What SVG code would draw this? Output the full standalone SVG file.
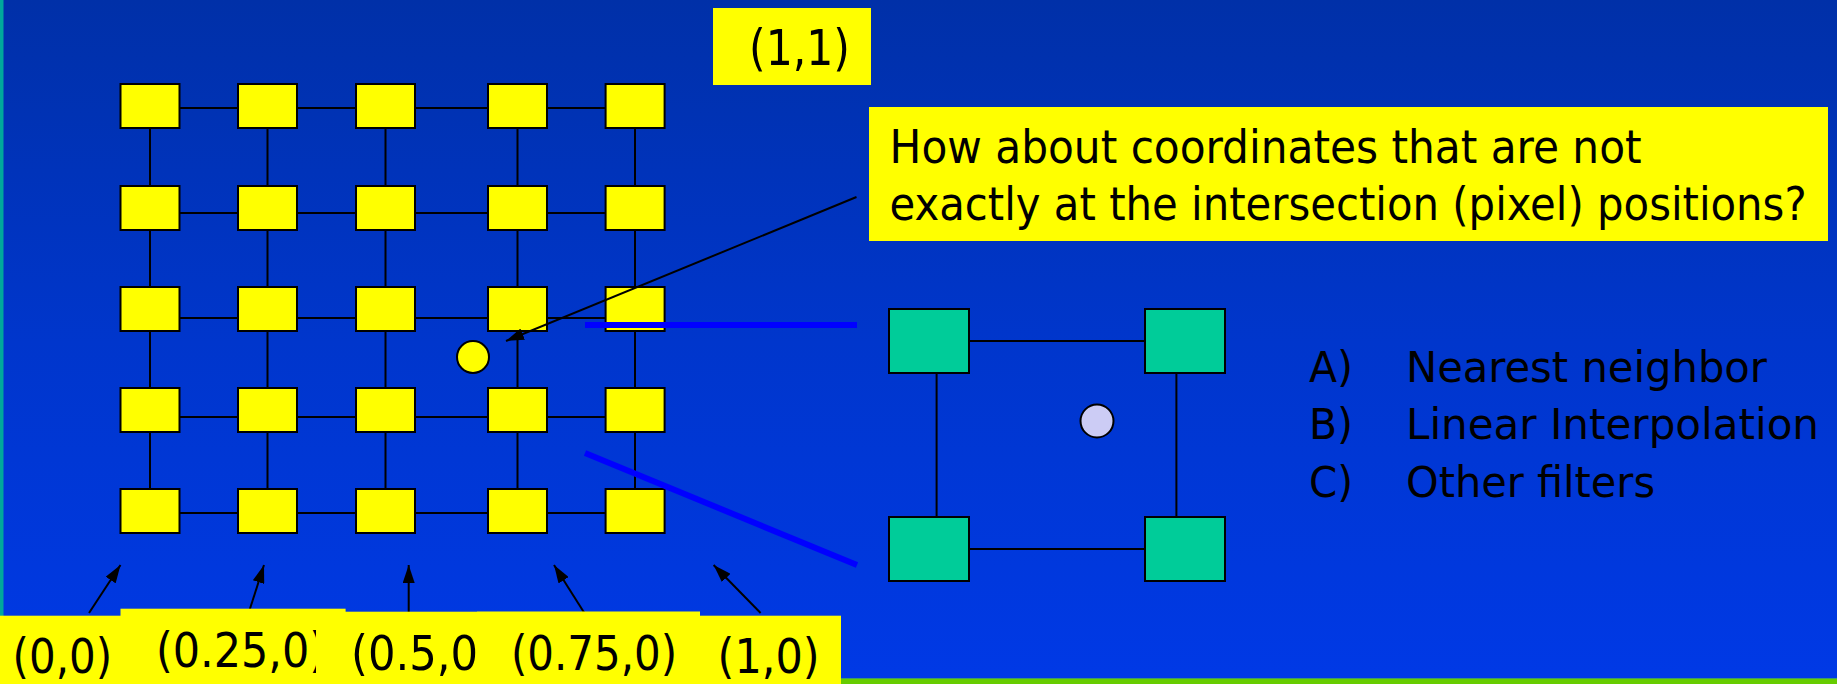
<svg xmlns="http://www.w3.org/2000/svg" width="1837" height="684" viewBox="0 0 1837 684">
<defs>
<linearGradient id="bg" x1="0" y1="0" x2="0" y2="1">
<stop offset="0" stop-color="#0030A8"/>
<stop offset="0.5" stop-color="#0036CC"/>
<stop offset="1" stop-color="#0039E6"/>
</linearGradient>
<marker id="ah" viewBox="0 0 18 12" refX="18" refY="6" markerWidth="18" markerHeight="12" markerUnits="userSpaceOnUse" orient="auto">
<path d="M0,0 L18,6 L0,12 z" fill="#000"/>
</marker>
<style>
.ys{fill:#FFFF00;stroke:#000;stroke-width:2}
.ts{fill:#00CC99;stroke:#000;stroke-width:2}
.ln{stroke:#000;stroke-width:2;fill:none}
.ar{stroke:#000;stroke-width:2;fill:none;marker-end:url(#ah)}
.bl{stroke:#0000FF;stroke-width:6;fill:none}
.lb{fill:#FFFF00}
.tx{font-family:"DejaVu Sans Condensed","DejaVu Sans",sans-serif;fill:#000}
</style>
</defs>
<rect x="0" y="0" width="1837" height="684" fill="url(#bg)"/>
<rect x="0" y="0" width="3.5" height="616" fill="#00A89C"/>
<rect x="841" y="678" width="996" height="6" fill="#66CC00"/>
<rect x="841" y="678" width="996" height="1" fill="#3E9A6A"/>

<g id="connectors">
<line class="ln" x1="150" y1="108" x2="635" y2="108"/>
<line class="ln" x1="150" y1="213" x2="635" y2="213"/>
<line class="ln" x1="150" y1="318" x2="635" y2="318"/>
<line class="ln" x1="150" y1="417" x2="635" y2="417"/>
<line class="ln" x1="150" y1="513" x2="635" y2="513"/>
<line class="ln" x1="150" y1="106" x2="150" y2="511"/>
<line class="ln" x1="267.5" y1="106" x2="267.5" y2="511"/>
<line class="ln" x1="385.5" y1="106" x2="385.5" y2="511"/>
<line class="ln" x1="517.5" y1="106" x2="517.5" y2="511"/>
<line class="ln" x1="635" y1="106" x2="635" y2="511"/>
<line class="ln" x1="969" y1="341" x2="1145" y2="341"/>
<line class="ln" x1="969" y1="549" x2="1145" y2="549"/>
<line class="ln" x1="936.6" y1="373" x2="936.6" y2="517"/>
<line class="ln" x1="1176.4" y1="373" x2="1176.4" y2="517"/>
</g>

<g id="grid">
<rect class="ys" x="120.5" y="84" width="59" height="44"/><rect class="ys" x="238" y="84" width="59" height="44"/><rect class="ys" x="356" y="84" width="59" height="44"/><rect class="ys" x="488" y="84" width="59" height="44"/><rect class="ys" x="605.6" y="84" width="59" height="44"/>
<rect class="ys" x="120.5" y="186" width="59" height="44"/><rect class="ys" x="238" y="186" width="59" height="44"/><rect class="ys" x="356" y="186" width="59" height="44"/><rect class="ys" x="488" y="186" width="59" height="44"/><rect class="ys" x="605.6" y="186" width="59" height="44"/>
<rect class="ys" x="120.5" y="287" width="59" height="44"/><rect class="ys" x="238" y="287" width="59" height="44"/><rect class="ys" x="356" y="287" width="59" height="44"/><rect class="ys" x="488" y="287" width="59" height="44"/><rect class="ys" x="605.6" y="287" width="59" height="44"/>
<rect class="ys" x="120.5" y="388" width="59" height="44"/><rect class="ys" x="238" y="388" width="59" height="44"/><rect class="ys" x="356" y="388" width="59" height="44"/><rect class="ys" x="488" y="388" width="59" height="44"/><rect class="ys" x="605.6" y="388" width="59" height="44"/>
<rect class="ys" x="120.5" y="489" width="59" height="44"/><rect class="ys" x="238" y="489" width="59" height="44"/><rect class="ys" x="356" y="489" width="59" height="44"/><rect class="ys" x="488" y="489" width="59" height="44"/><rect class="ys" x="605.6" y="489" width="59" height="44"/>
</g>

<g id="sample-point">
<circle cx="473" cy="357" r="16" fill="#FFFF00" stroke="#000" stroke-width="2"/>
</g>

<g id="zoom-lines">
<line class="bl" x1="585" y1="325" x2="857" y2="325"/>
<line class="bl" x1="585" y1="453" x2="857" y2="565"/>
</g>

<g id="cell">
<rect class="ts" x="889" y="309" width="80" height="64"/>
<rect class="ts" x="1145" y="309" width="80" height="64"/>
<rect class="ts" x="889" y="517" width="80" height="64"/>
<rect class="ts" x="1145" y="517" width="80" height="64"/>
<circle cx="1097" cy="421" r="16.5" fill="#CCCCF5" stroke="#000" stroke-width="2"/>
</g>

<g id="label-11">
<rect class="lb" x="713" y="8" width="158" height="77"/>
<text class="tx" x="749" y="65" font-size="50" textLength="101" lengthAdjust="spacingAndGlyphs">(1,1)</text>
</g>

<g id="callout">
<rect class="lb" x="869" y="107" width="959" height="134"/>
<text class="tx" x="889.6" y="162.7" font-size="47" textLength="752" lengthAdjust="spacingAndGlyphs">How about coordinates that are not</text>
<text class="tx" x="889.6" y="220" font-size="47" textLength="917" lengthAdjust="spacingAndGlyphs">exactly at the intersection (pixel) positions?</text>
</g>

<g id="arrows">
<line class="ar" x1="856.5" y1="197" x2="506" y2="341"/>
<line class="ar" x1="89" y1="613" x2="120.5" y2="565"/>
<line class="ar" x1="248.6" y1="613" x2="264" y2="565"/>
<line class="ar" x1="408.7" y1="613" x2="408.7" y2="565"/>
<line class="ar" x1="584.4" y1="613" x2="554" y2="565"/>
<line class="ar" x1="760.6" y1="613" x2="713.6" y2="565"/>
</g>

<g id="label-00">
<rect class="lb" x="0" y="615.7" width="130" height="70"/>
<text class="tx" x="12.6" y="673" font-size="48" textLength="99.5" lengthAdjust="spacingAndGlyphs">(0,0)</text>
</g>
<g id="label-025">
<rect class="lb" x="120.5" y="608.7" width="225.1" height="80"/>
<text class="tx" x="156" y="666.7" font-size="48" textLength="170" lengthAdjust="spacingAndGlyphs">(0.25,0)</text>
</g>
<g id="label-05">
<rect class="lb" x="316" y="611.7" width="384" height="80"/>
<text class="tx" x="351" y="670" font-size="48" textLength="144" lengthAdjust="spacingAndGlyphs">(0.5,0)</text>
</g>
<g id="label-075">
<rect class="lb" x="477" y="611.7" width="223" height="80"/>
<text class="tx" x="511" y="670" font-size="48" textLength="166" lengthAdjust="spacingAndGlyphs">(0.75,0)</text>
</g>
<g id="label-10">
<rect class="lb" x="700" y="615.7" width="141" height="70"/>
<text class="tx" x="717.6" y="673" font-size="48" textLength="102" lengthAdjust="spacingAndGlyphs">(1,0)</text>
</g>

<g id="options">
<text class="tx" x="1309" y="381.7" font-size="43" textLength="44" lengthAdjust="spacingAndGlyphs">A)</text>
<text class="tx" x="1406" y="381.7" font-size="43" textLength="361" lengthAdjust="spacingAndGlyphs">Nearest neighbor</text>
<text class="tx" x="1309" y="439.3" font-size="43" textLength="44" lengthAdjust="spacingAndGlyphs">B)</text>
<text class="tx" x="1406" y="439.3" font-size="43" textLength="413" lengthAdjust="spacingAndGlyphs">Linear Interpolation</text>
<text class="tx" x="1309" y="496.7" font-size="43" textLength="44" lengthAdjust="spacingAndGlyphs">C)</text>
<text class="tx" x="1406" y="496.7" font-size="43" textLength="249" lengthAdjust="spacingAndGlyphs">Other filters</text>
</g>
</svg>
